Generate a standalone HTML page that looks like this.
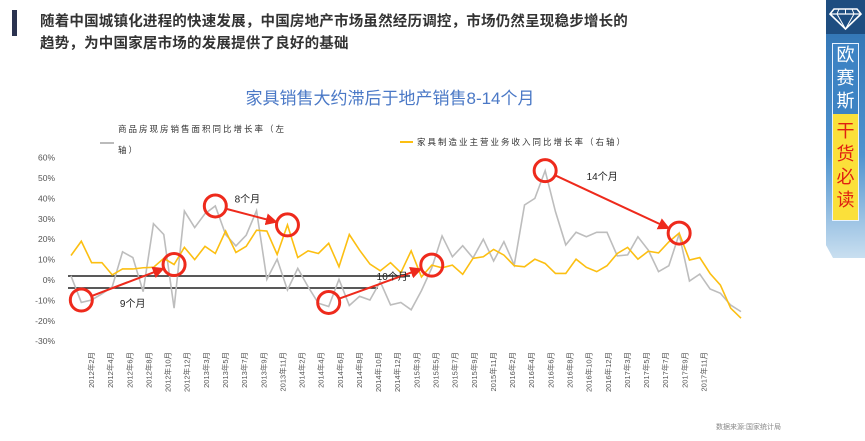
<!DOCTYPE html>
<html><head><meta charset="utf-8">
<style>
body{margin:0;width:865px;height:441px;background:#fff;overflow:hidden;font-family:"Liberation Sans","Noto Sans CJK SC",sans-serif;position:relative}
.hdr{position:absolute;left:40px;top:11px;font-size:14.5px;font-weight:bold;color:#333;line-height:22px;letter-spacing:0.2px}
.bar{position:absolute;left:12px;top:10px;width:5px;height:26px;background:#2b3350}
.title{position:absolute;left:0;width:780px;text-align:center;top:84px;font-size:17px;color:#4a78c6}
.panel{position:absolute;left:826px;top:0;width:39px;height:258px;background:linear-gradient(#2d70b0,#4f93cf 60%,#c9dff0);clip-path:polygon(0 0,100% 0,100% 100%,18% 100%,0 95%)}
.ptop{position:absolute;left:826px;top:0;width:39px;height:34px;background:#1e4d80}
.pbox{position:absolute;left:832px;top:43px;width:25px;border:1px solid #e8f2ff;font-size:18px;line-height:23px;text-align:center}
.src{position:absolute;left:716px;top:422px;font-size:7px;color:#888}
</style></head><body>
<div class="bar"></div>
<div class="hdr">随着中国城镇化进程的快速发展，中国房地产市场虽然经历调控，市场仍然呈现稳步增长的<br>趋势，为中国家居市场的发展提供了良好的基础</div>
<div class="title">家具销售大约滞后于地产销售8-14个月</div>
<div class="panel"></div>
<div class="ptop">
<svg width="39" height="34"><polygon points="8,9 31,9 35,14 19.5,29 4,14" fill="none" stroke="#fff" stroke-width="1.6"/><line x1="4" y1="14" x2="35" y2="14" stroke="#fff" stroke-width="1.2"/><polyline points="13,9 11,14 19.5,29 28,14 26,9" fill="none" stroke="#fff" stroke-width="1"/><line x1="19.5" y1="9" x2="19.5" y2="14" stroke="#fff"/></svg></div>
<div class="pbox">
<div style="color:#fff;background:#3d83c4;padding:0 0 1px">欧<br>赛<br>斯</div>
<div style="color:#e02010;background:#fbe03a;padding:6px 0 8px">干<br>货<br>必<br>读</div></div>
<div class="src">数据来源:国家统计局</div>
<svg id="chart" width="865" height="441" style="position:absolute;left:0;top:0"></svg>
<script>
const grayValues=[2,-11,-9.8,-6.8,-3.3,13.8,11,-5.7,27.6,22.3,-13.8,33.8,25.7,32.5,36.3,22.3,16.7,22,34,0.3,10.2,-4.9,5.7,-3.3,-11.4,-13,0.3,-12.5,-8,-9.8,-0.8,-12.2,-11,-14.6,-5.2,5.9,21.6,11.4,16.8,10.8,20,9.3,18.8,7.3,36.8,40,53.6,33.5,17.2,23.4,21.2,23.4,23.4,11.8,12.3,21.2,14.7,4.1,7,22.5,-0.5,2.9,-4.4,-6.5,-12.3,-15.5];
const yellowValues=[12,19,8.5,8.5,2.5,5.4,5.4,6,6.2,10.6,7.6,16,10,16.5,13,24,13.5,16.5,24.4,24,12.5,27,11,14.3,13,18,6.5,22.3,14.6,7.8,4.5,8.5,3.6,14.3,1.5,7.3,6,7.3,2.8,10.6,11.4,15,12.2,7,6.5,10.2,8.1,3.2,3.2,10.2,6.2,4.1,7,13,16,10.2,14.1,13.3,18.7,23,9.8,11,3.2,-2.5,-13.8,-18.7];
const yTicks=[60,50,40,30,20,10,0,-10,-20,-30];
const xLabels=["2012年2月","2012年4月","2012年6月","2012年8月","2012年10月","2012年12月","2013年3月","2013年5月","2013年7月","2013年9月","2013年11月","2014年2月","2014年4月","2014年6月","2014年8月","2014年10月","2014年12月","2015年3月","2015年5月","2015年7月","2015年9月","2015年11月","2016年2月","2016年4月","2016年6月","2016年8月","2016年10月","2016年12月","2017年3月","2017年5月","2017年7月","2017年9月","2017年11月"];
const annotations=[{from:1,to:10,label:"9个月"},{from:14,to:21,label:"8个月"},{from:25,to:35,label:"10个月"},{from:46,to:59,label:"14个月"}];
const NS="http://www.w3.org/2000/svg",svg=document.getElementById('chart');
const x0=71,x1=741;
function xs(i){return x0+(x1-x0)*i/(grayValues.length-1);}
function ys(v){return 280-2.04*v;}
function lx(i){return 91+19.14*i;}
function mk(t,a){const e=document.createElementNS(NS,t);for(const k in a)e.setAttribute(k,a[k]);svg.appendChild(e);return e;}
yTicks.forEach(v=>{const t=mk('text',{x:55,y:ys(v)+3,'text-anchor':'end','font-size':8.5,fill:'#555'});t.textContent=v+'%';

});
xLabels.forEach((s,i)=>{const t=mk('text',{transform:`translate(${lx(i)+3},352) rotate(-90)`,'text-anchor':'end','font-size':7.5,fill:'#555'});t.textContent=s;

});
let l=mk('line',{x1:68,y1:276,x2:410,y2:276,stroke:'#222','stroke-width':1.5});


l=mk('line',{x1:68,y1:288,x2:378,y2:288,stroke:'#222','stroke-width':1.5});


function series(vals,col,name){const p=mk('polyline',{points:vals.map((v,i)=>xs(i)+','+ys(v)).join(' '),fill:'none',stroke:col,'stroke-width':1.6});

}
series(grayValues,'#bdbdbd','housing-sales-line');
series(yellowValues,'#fcbf12','furniture-revenue-line');
let g=mk('line',{x1:100,y1:143,x2:114,y2:143,stroke:'#bbb','stroke-width':2});


let t=mk('text',{x:118,y:132,'font-size':8.5,fill:'#333','letter-spacing':2});t.textContent='商品房现房销售面积同比增长率（左';


t=mk('text',{x:118,y:153,'font-size':8.5,fill:'#333','letter-spacing':2});t.textContent='轴）';


g=mk('line',{x1:400,y1:142,x2:413,y2:142,stroke:'#fcbf12','stroke-width':2});


t=mk('text',{x:417,y:145,'font-size':8.5,fill:'#333','letter-spacing':2});t.textContent='家具制造业主营业务收入同比增长率（右轴）';


mk('defs',{}).innerHTML='<marker id="ah" markerWidth="6" markerHeight="6" refX="5" refY="3" orient="auto"><path d="M0,0 L6,3 L0,6 z" fill="#ee2a1c"/></marker>';
annotations.forEach(a=>{
 const ax=xs(a.from),ay=ys(a.from===46||a.from===14?grayValues[a.from]:(a.from===1?-9.8:-11)),bx=xs(a.to),by=ys(yellowValues[a.to]);
 [[ax,ay],[bx,by]].forEach(c=>{const ci=mk('circle',{cx:c[0],cy:c[1],r:11,fill:'none',stroke:'#ee2a1c','stroke-width':3});
 
 });
 const dx=bx-ax,dy=by-ay,d=Math.hypot(dx,dy);
 const ar=mk('line',{x1:ax+dx/d*11,y1:ay+dy/d*11,x2:bx-dx/d*12,y2:by-dy/d*12,stroke:'#ee2a1c','stroke-width':2,'marker-end':'url(#ah)'});
 
 
 const mx=(ax+bx)/2,my=(ay+by)/2;
 const off=a.from===1?[5,25]:a.from===25?[12,-4]:a.from===14?[-4,-13]:[-10,-22];
 const lt=mk('text',{x:mx+off[0],y:my+off[1],'font-size':10,fill:'#222','text-anchor':'middle'});lt.textContent=a.label;
 
 
});
</script>
</body></html>
